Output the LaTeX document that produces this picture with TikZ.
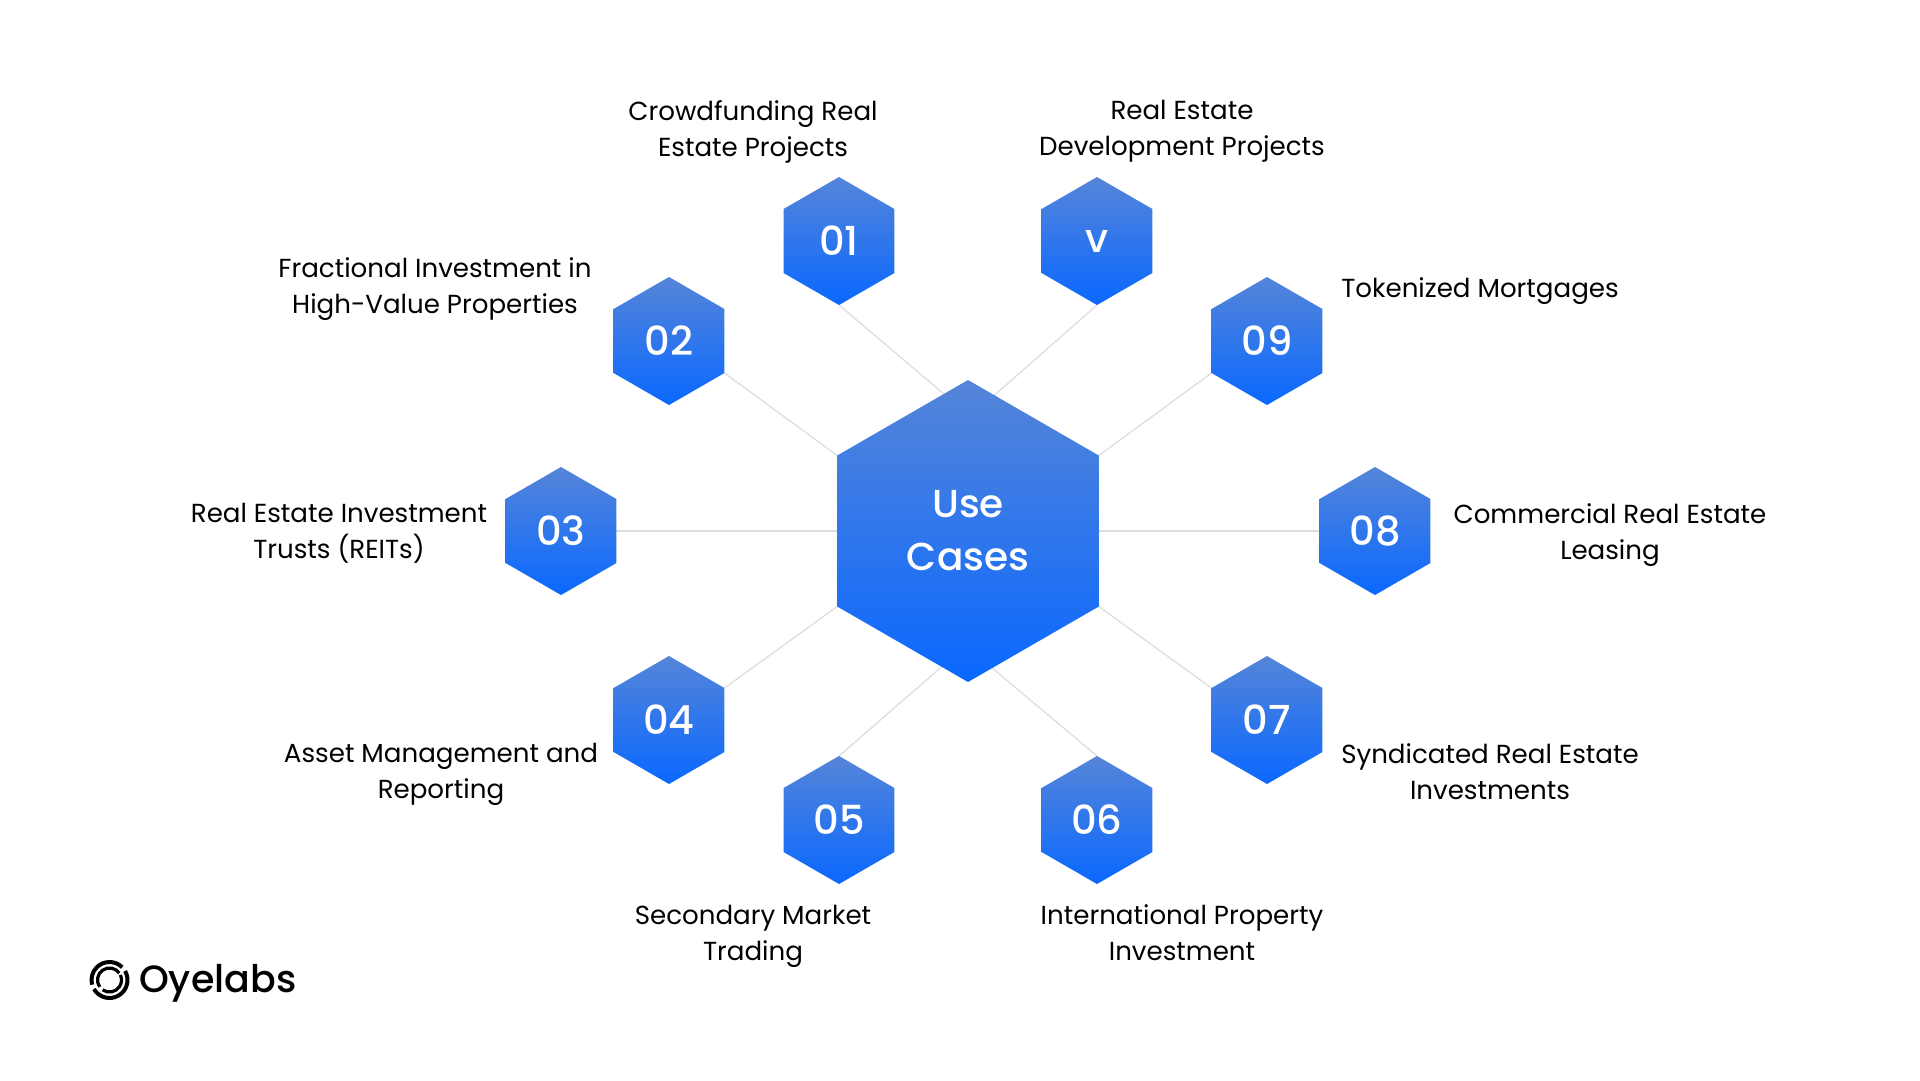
\documentclass[tikz,border=0pt]{standalone}
\usepackage{fontspec}
\setmainfont{Poppins}
\newfontfamily\medfont{Poppins Medium}
\usetikzlibrary{shapes.geometric,backgrounds}
\definecolor{hextop}{HTML}{5585D8}
\definecolor{hexbot}{HTML}{0A68FF}
\definecolor{linkgray}{HTML}{DEDEDE}
\tikzset{
	hexbase/.style={regular polygon, regular polygon sides=6, regular polygon rotate=-30, inner sep=0pt, outer sep=0pt, top color=hextop, bottom color=hexbot, text=white, align=center},
	hexsmall/.style={hexbase, minimum size=128pt, font=\medfont\fontsize{40}{40}\selectfont},
	hexmain/.style={hexbase, minimum size=302pt, font=\medfont\fontsize{39}{53}\selectfont},
	caption/.style={align=center, inner sep=0pt, text=black, font=\fontsize{26.1}{36}\selectfont, execute at begin node=\strut, execute at end node=\strut},
	link/.style={draw=linkgray, line width=1.3pt},
}
\begin{document}
\begin{tikzpicture}[x=1pt, y=-1pt, line join=round]
	\useasboundingbox (0,0) rectangle (1920,1080);
	\node[hexmain] (main) at (968,531) {Use\\Cases};
	% small hexagons
	\foreach \n/\x/\y/\t in {h01/839/241/01, h10/1097/241/v, h02/669/341/02, h09/1267/341/09, h03/561/531/03, h08/1375/531/08, h04/669/720/04, h07/1267/720/07, h05/839/820/05, h06/1097/820/06}
		\node[hexsmall] (\n) at (\x,\y) {\t};
	\begin{scope}[on background layer]
	\draw[link] (h01.corner 5) -- (main.100.7);
	\draw[link] (h10.corner 5) -- (main.79.3);
	\draw[link] (h02.corner 6) -- (main.corner 3);
	\draw[link] (h09.corner 4) -- (main.corner 1);
	\draw[link] (h03.east) -- (main.west);
	\draw[link] (h08.west) -- (main.east);
	\draw[link] (h04.corner 1) -- (main.corner 4);
	\draw[link] (h07.corner 3) -- (main.corner 6);
	\draw[link] (h05.corner 2) -- (main.259.3);
	\draw[link] (h06.corner 2) -- (main.280.7);
	\end{scope}
	\path 
	(753,133.5) node[caption] (c01) {Crowdfunding Real\\Estate Projects}
	(1182,133.5) node[caption] (c10) {Real Estate\\Development Projects}
	(435,291) node[caption] (c02) {Fractional Investment in\\High-Value Properties}
	(1480,290) node[caption] (c09) {Tokenized Mortgages}
	(339,536.5) node[caption] (c03) {Real Estate Investment\\Trusts (REITs)}
	(1610,536.5) node[caption] (c08) {Commercial Real Estate\\Leasing}
	(441,776.5) node[caption] (c04) {Asset Management and\\Reporting}
	(1490,776.5) node[caption] (c07) {Syndicated Real Estate\\Investments}
	(753,938) node[caption] (c05) {Secondary Market\\Trading}
	(1182,938) node[caption] (c06) {International Property\\Investment};
	% logo
	\draw[line width=3.2pt] (109.5,980) ++(125:12) arc[start angle=125, end angle=-25, radius=12];
	\draw[line width=3.2pt] (109.5,980) ++(-35:12) arc[start angle=-35, end angle=-215, radius=12];
	\draw[line width=4pt] (109.5,980) ++(150:18) arc[start angle=150, end angle=-30, radius=18];
	\draw[line width=4pt] (109.5,980) ++(-45:18) arc[start angle=-45, end angle=-195, radius=18];
	\node[anchor=base west, inner sep=0pt, font=\medfont\fontsize{38}{38}\selectfont] (brand) at (139,992) {Oyelabs};
\end{tikzpicture}
\end{document}
